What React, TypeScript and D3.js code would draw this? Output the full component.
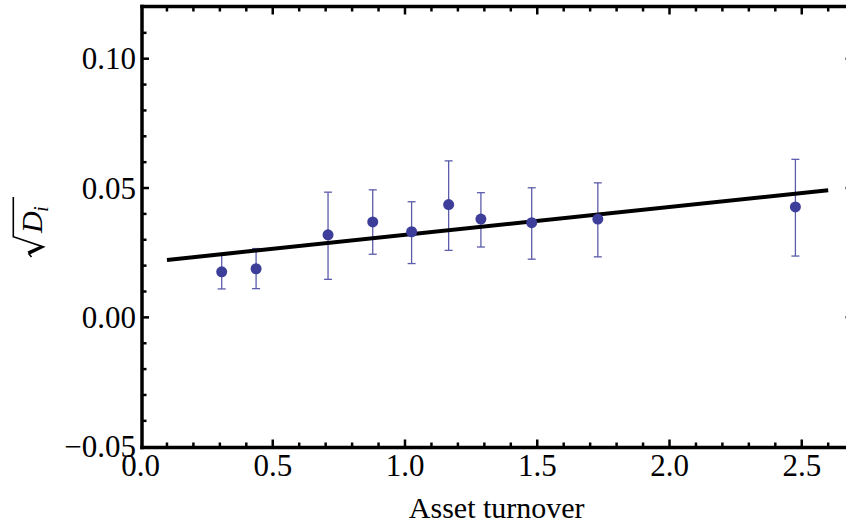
import React from "react";
import * as d3 from "d3";

const turnover = [0.307, 0.437, 0.709, 0.878, 1.025, 1.165, 1.287, 1.479, 1.729, 2.476];
const sqrtD = [0.0176, 0.0188, 0.0319, 0.0369, 0.0331, 0.0436, 0.0380, 0.0366, 0.0380, 0.0427];
const errHigh = [0.0241, 0.0266, 0.0484, 0.0493, 0.0447, 0.0605, 0.0482, 0.0501, 0.0520, 0.0611];
const errLow = [0.0110, 0.0111, 0.0147, 0.0244, 0.0208, 0.0259, 0.0272, 0.0225, 0.0234, 0.0237];
const fitIntercept = 0.0211;
const fitSlope = 0.0108;
const fitRange = [0.1, 2.6];
const xTicks = [0, 0.5, 1.0, 1.5, 2.0, 2.5];
const xTickLabels = ["0.0", "0.5", "1.0", "1.5", "2.0", "2.5"];
const yTicks = [-0.05, 0, 0.05, 0.1];
const yTickLabels = ["\u22120.05", "0.00", "0.05", "0.10"];

const W = 846;
const H = 524;
const FONT = "'Liberation Serif', 'Times New Roman', serif";
const PT = "#3d3d9a";
const ERR = "#5c5cab";

export default function App() {
  const x = d3.scaleLinear().domain([0, 2.5]).range([140.5, 801.75]);
  const y = d3.scaleLinear().domain([-0.05, 0.1]).range([446.7, 58.7]);
  const left = x(0) + 1.5;
  const right = 852.5;
  const top = 6.5;
  const bottom = 447.5;

  const xMinor = d3.range(0, 28).map((i) => i / 10).filter((v) => x(v) < right - 2);
  const yMinor = d3.range(-5, 13).map((i) => i / 100).filter((v) => y(v) > top + 2 && y(v) < bottom - 2);
  const isMajorX = (v: number) => Math.abs(v * 2 - Math.round(v * 2)) < 1e-6;
  const isMajorY = (v: number) => Math.abs(v * 20 - Math.round(v * 20)) < 1e-6;

  const line = d3
    .line<number>()
    .x((v) => x(v))
    .y((v) => y(fitIntercept + fitSlope * v));

  const capW = 4;

  return (
    <svg width={W} height={H} style={{ position: "absolute", left: 0, top: 0, background: "#fff" }}>
      {/* error bars */}
      {turnover.map((t, i) => (
        <g key={"e" + i} stroke={ERR} strokeWidth={1.3}>
          <line x1={x(t)} x2={x(t)} y1={y(errLow[i])} y2={y(errHigh[i])} />
          <line x1={x(t) - capW} x2={x(t) + capW} y1={y(errLow[i])} y2={y(errLow[i])} />
          <line x1={x(t) - capW} x2={x(t) + capW} y1={y(errHigh[i])} y2={y(errHigh[i])} />
        </g>
      ))}
      {/* fit line */}
      <path d={line(fitRange) || ""} stroke="#000" strokeWidth={4} fill="none" />
      {/* points */}
      {turnover.map((t, i) => (
        <circle key={"p" + i} cx={x(t)} cy={y(sqrtD[i])} r={5.5} fill={PT} />
      ))}
      {/* frame */}
      <g stroke="#000" fill="none">
        <line x1={left} x2={left} y1={top - 1.75} y2={bottom + 1.75} strokeWidth={3.5} />
        <line x1={left - 1.75} x2={W + 10} y1={bottom} y2={bottom} strokeWidth={3.5} />
        <line x1={left - 1.75} x2={W + 10} y1={top} y2={top} strokeWidth={3.5} />
        <line x1={right} x2={right} y1={top} y2={bottom} strokeWidth={3.5} />
        {xMinor.filter((v) => v > 0.01).map((v, i) => {
          const L = isMajorX(v) ? 8 : 5;
          return (
            <g key={"xt" + i} strokeWidth={2.5}>
              <line x1={x(v)} x2={x(v)} y1={bottom} y2={bottom - L} />
              <line x1={x(v)} x2={x(v)} y1={top} y2={top + L} />
            </g>
          );
        })}
        {yMinor.map((v, i) => {
          const L = isMajorY(v) ? 7 : 4.5;
          return (
            <g key={"yt" + i} strokeWidth={2.5}>
              <line x1={left} x2={left + L} y1={y(v)} y2={y(v)} />
              <line x1={right} x2={right - L} y1={y(v)} y2={y(v)} />
            </g>
          );
        })}
      </g>
      {/* tick labels */}
      <g fontFamily={FONT} fontSize={31} fill="#000">
        {xTicks.map((v, i) => (
          <text key={"xl" + i} x={x(v)} y={476} textAnchor="middle">
            {xTickLabels[i]}
          </text>
        ))}
        {yTicks.map((v, i) => (
          <text key={"yl" + i} x={136} y={y(v) + 10.5} textAnchor="end">
            {yTickLabels[i]}
          </text>
        ))}
      </g>
      {/* axis labels */}
      <text x={496.7} y={518} textAnchor="middle" fontFamily={FONT} fontSize={30} fill="#000">
        Asset turnover
      </text>
      <g transform="translate(42, 258) rotate(-90)" fontFamily={FONT} fill="#000">
        <path
          d="M 1 -10.5 L 4 -13 L 11 1.5 L 21.3 -28.7 L 61 -28.7"
          fill="none"
          stroke="#000"
          strokeWidth={1.6}
          strokeLinejoin="miter"
        />
        <path d="M 4 -13 L 6.5 -14.5 L 12 -2 L 11 1.5 Z" fill="#000" />
        <text x={25} y={0} fontSize={30} fontStyle="italic">
          D
        </text>
        <text x={46} y={6} fontSize={21} fontStyle="italic">
          i
        </text>
      </g>
    </svg>
  );
}
